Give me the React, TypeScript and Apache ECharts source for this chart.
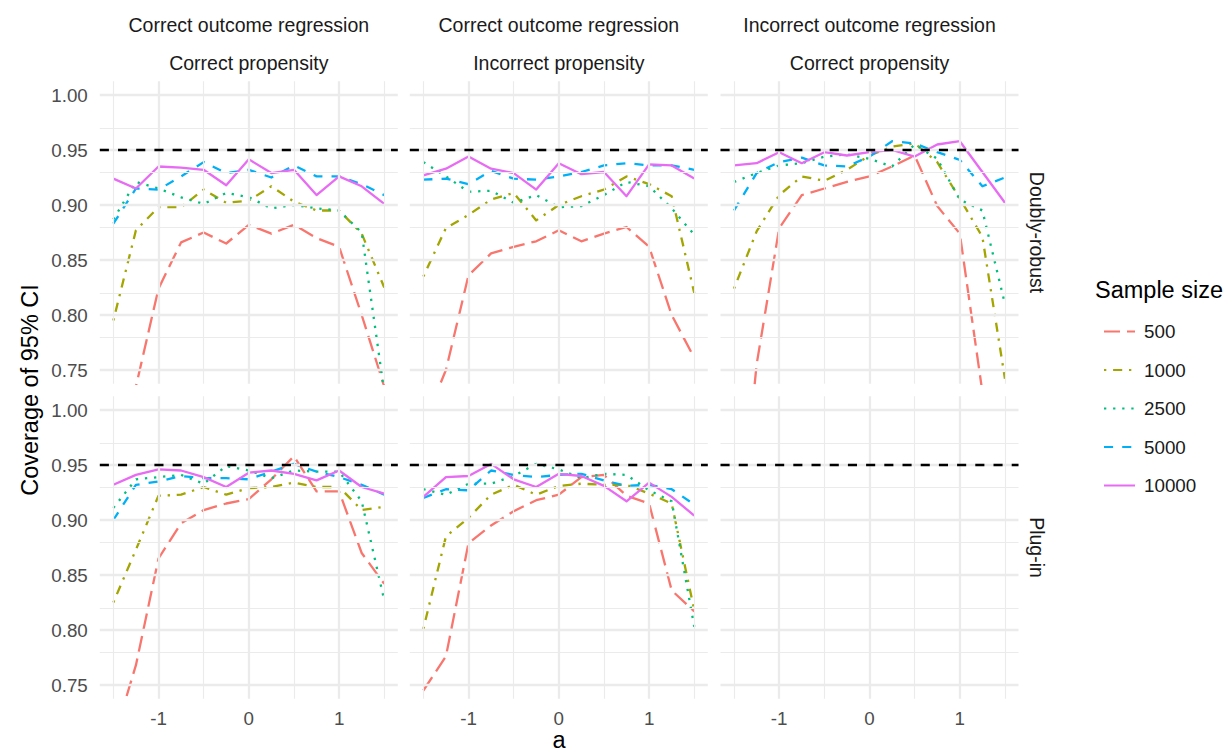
import React, { useEffect, useRef } from "react";
import * as echarts from "echarts";

// ---------- data ----------
const aValues = [-1.5, -1.25, -1, -0.75, -0.5, -0.25, 0, 0.25, 0.5, 0.75, 1, 1.25, 1.5];
const sampleSizes = ["500", "1000", "2500", "5000", "10000"];
const colStripTop = ["Correct outcome regression", "Correct outcome regression", "Incorrect outcome regression"];
const colStripBottom = ["Correct propensity", "Incorrect propensity", "Correct propensity"];
const rowStrips = ["Doubly-robust", "Plug-in"];
const yTicks = [0.75, 0.8, 0.85, 0.9, 0.95, 1.0];
const yMinor = [0.775, 0.825, 0.875, 0.925, 0.975];
const xTicks = [-1, 0, 1];
const xMinor = [-1.5, -0.5, 0.5, 1.5];
const nominalLevel = 0.95;

// Doubly-robust, correct outcome regression, correct propensity
const drCC500 = [0.62, 0.735, 0.824, 0.866, 0.875, 0.865, 0.882, 0.874, 0.882, 0.87, 0.862, 0.8, 0.735];
const drCC1000 = [0.795, 0.877, 0.898, 0.898, 0.914, 0.902, 0.904, 0.917, 0.903, 0.895, 0.895, 0.874, 0.825];
const drCC2500 = [0.887, 0.921, 0.915, 0.907, 0.901, 0.911, 0.907, 0.897, 0.9, 0.897, 0.895, 0.875, 0.73];
const drCC5000 = [0.883, 0.915, 0.914, 0.926, 0.939, 0.929, 0.932, 0.925, 0.936, 0.926, 0.926, 0.919, 0.909];
const drCC10000 = [0.924, 0.915, 0.935, 0.934, 0.932, 0.918, 0.9415, 0.929, 0.932, 0.909, 0.926, 0.917, 0.901];

// Doubly-robust, correct outcome regression, incorrect propensity
const drCI500 = [0.7, 0.75, 0.836, 0.856, 0.862, 0.867, 0.877, 0.867, 0.874, 0.88, 0.862, 0.8, 0.761];
const drCI1000 = [0.835, 0.879, 0.891, 0.905, 0.911, 0.886, 0.9, 0.908, 0.914, 0.926, 0.919, 0.908, 0.82];
const drCI2500 = [0.939, 0.926, 0.912, 0.913, 0.902, 0.909, 0.898, 0.899, 0.909, 0.921, 0.917, 0.897, 0.873];
const drCI5000 = [0.923, 0.924, 0.919, 0.931, 0.924, 0.923, 0.926, 0.93, 0.936, 0.938, 0.936, 0.936, 0.932];
const drCI10000 = [0.927, 0.933, 0.944, 0.933, 0.929, 0.914, 0.938, 0.928, 0.93, 0.908, 0.937, 0.936, 0.924];

// Doubly-robust, incorrect outcome regression, correct propensity
const drIC500 = [0.55, 0.755, 0.879, 0.909, 0.915, 0.921, 0.926, 0.935, 0.945, 0.899, 0.874, 0.73, 0.6];
const drIC1000 = [0.824, 0.876, 0.909, 0.926, 0.922, 0.932, 0.945, 0.953, 0.956, 0.939, 0.906, 0.871, 0.742];
const drIC2500 = [0.921, 0.929, 0.936, 0.938, 0.944, 0.946, 0.942, 0.935, 0.955, 0.942, 0.905, 0.895, 0.81];
const drIC5000 = [0.895, 0.929, 0.939, 0.943, 0.936, 0.935, 0.944, 0.958, 0.956, 0.948, 0.941, 0.917, 0.925];
const drIC10000 = [0.936, 0.938, 0.948, 0.938, 0.948, 0.945, 0.948, 0.95, 0.944, 0.955, 0.958, 0.93, 0.902];

// Plug-in, correct outcome regression, correct propensity
const piCC500 = [0.7, 0.768, 0.865, 0.897, 0.909, 0.915, 0.919, 0.937, 0.958, 0.926, 0.926, 0.87, 0.842];
const piCC1000 = [0.825, 0.873, 0.922, 0.923, 0.93, 0.923, 0.929, 0.93, 0.934, 0.93, 0.93, 0.909, 0.912];
const piCC2500 = [0.911, 0.937, 0.939, 0.941, 0.933, 0.949, 0.945, 0.938, 0.945, 0.944, 0.944, 0.917, 0.827];
const piCC5000 = [0.9, 0.932, 0.935, 0.94, 0.938, 0.938, 0.937, 0.944, 0.951, 0.944, 0.939, 0.932, 0.923];
const piCC10000 = [0.932, 0.941, 0.946, 0.945, 0.939, 0.93, 0.943, 0.945, 0.942, 0.936, 0.945, 0.93, 0.924];

// Plug-in, correct outcome regression, incorrect propensity
const piCI500 = [0.745, 0.776, 0.879, 0.895, 0.908, 0.918, 0.923, 0.939, 0.941, 0.922, 0.915, 0.836, 0.817];
const piCI1000 = [0.801, 0.885, 0.902, 0.923, 0.932, 0.923, 0.931, 0.933, 0.932, 0.932, 0.924, 0.915, 0.818];
const piCI2500 = [0.928, 0.923, 0.933, 0.933, 0.94, 0.951, 0.946, 0.938, 0.942, 0.941, 0.927, 0.917, 0.803];
const piCI5000 = [0.92, 0.928, 0.927, 0.945, 0.941, 0.939, 0.941, 0.942, 0.936, 0.931, 0.932, 0.928, 0.914];
const piCI10000 = [0.921, 0.939, 0.94, 0.951, 0.937, 0.93, 0.942, 0.94, 0.931, 0.917, 0.934, 0.921, 0.904];

const panels = [
  { row: 0, col: 0, series: [drCC500, drCC1000, drCC2500, drCC5000, drCC10000] },
  { row: 0, col: 1, series: [drCI500, drCI1000, drCI2500, drCI5000, drCI10000] },
  { row: 0, col: 2, series: [drIC500, drIC1000, drIC2500, drIC5000, drIC10000] },
  { row: 1, col: 0, series: [piCC500, piCC1000, piCC2500, piCC5000, piCC10000] },
  { row: 1, col: 1, series: [piCI500, piCI1000, piCI2500, piCI5000, piCI10000] },
  { row: 1, col: 2, series: null as number[][] | null },
];

// ---------- styles ----------
const FONT = "'Liberation Sans', Arial, Helvetica, sans-serif";
const colors = ["#F8766D", "#A3A500", "#00BF7D", "#00B0F6", "#E76BF3"];
const dashes: any[] = [[16, 7], [2.3, 6.8, 9.1, 6.8], [2.3, 6.8], [9.1, 9.1], "solid"];
const colLeft = [99.8, 409.8, 720.5];
const rowTop = [81.25, 396.25];
const panelW = 298;
const panelH = 302.5;
const X_MIN = -1.65, X_MAX = 1.65, Y_MIN = 0.7375, Y_MAX = 1.0125;
const GRID = "#EBEBEB";

export default function App() {
  const ref = useRef<HTMLDivElement>(null);
  useEffect(() => {
    if (!ref.current) return;
    const chart = echarts.init(ref.current, undefined, { renderer: "svg" });
    const grid: any[] = [];
    const xAxis: any[] = [];
    const yAxis: any[] = [];
    const series: any[] = [];
    panels.forEach((p, i) => {
      grid.push({ left: colLeft[p.col], top: rowTop[p.row], width: panelW, height: panelH });
      xAxis.push({
        type: "value", gridIndex: i, min: X_MIN, max: X_MAX,
        axisLine: { show: false }, axisTick: { show: false }, splitLine: { show: false },
        axisLabel: {
          show: p.row === 1, customValues: xTicks, margin: 10,
          color: "#4D4D4D", fontSize: 18.8, fontFamily: FONT,
          formatter: (v: number) => String(Math.round(v)),
        },
      });
      yAxis.push({
        type: "value", gridIndex: i, min: Y_MIN, max: Y_MAX,
        axisLine: { show: false }, axisTick: { show: false }, splitLine: { show: false },
        axisLabel: {
          show: p.col === 0, customValues: yTicks, margin: 12,
          color: "#4D4D4D", fontSize: 18.8, fontFamily: FONT,
          formatter: (v: number) => v.toFixed(2),
        },
      });
      const gl = (w: number) => ({ color: GRID, width: w, type: "solid" });
      series.push({
        type: "line", xAxisIndex: i, yAxisIndex: i, data: [], silent: true, z: 1,
        markLine: {
          silent: true, symbol: ["none", "none"], label: { show: false }, animation: false,
          emphasis: { disabled: true },
          data: [
            ...xMinor.map((v) => ({ xAxis: v, lineStyle: gl(1.14) })),
            ...xTicks.map((v) => ({ xAxis: v, lineStyle: gl(2.28) })),
            ...yMinor.map((v) => ({ yAxis: v, lineStyle: gl(1.14) })),
            ...yTicks.map((v) => ({ yAxis: v, lineStyle: gl(2.28) })),
          ],
        },
      });
      if (p.series) {
        p.series.forEach((vals, k) => {
          series.push({
            type: "line", name: sampleSizes[k], xAxisIndex: i, yAxisIndex: i,
            data: aValues.map((a, j) => [a, vals[j]]),
            symbol: "none", showSymbol: false, clip: true, silent: true, z: 3,
            lineStyle: { color: colors[k], width: 2.3, type: dashes[k], cap: "butt", join: "round" },
            itemStyle: { color: colors[k] },
            emphasis: { disabled: true },
          });
        });
      }
      series.push({
        type: "line", xAxisIndex: i, yAxisIndex: i, data: [], silent: true, z: 5,
        markLine: {
          silent: true, symbol: ["none", "none"], label: { show: false }, animation: false,
          emphasis: { disabled: true },
          data: [{ yAxis: nominalLevel }],
          lineStyle: { color: "#000000", width: 2.3, type: [9.1, 9.1] },
        },
      });
    });

    const graphic: any[] = [];
    [0, 1, 2].forEach((c) => {
      const cx = colLeft[c] + panelW / 2;
      graphic.push({ type: "text", x: cx, y: 24.5, style: { text: colStripTop[c], fontSize: 19.5, fontFamily: FONT, fill: "#1A1A1A", align: "center", verticalAlign: "middle" } });
      graphic.push({ type: "text", x: cx, y: 63, style: { text: colStripBottom[c], fontSize: 19.5, fontFamily: FONT, fill: "#1A1A1A", align: "center", verticalAlign: "middle" } });
    });
    [0, 1].forEach((r) => {
      graphic.push({ type: "text", x: 1037, y: rowTop[r] + panelH / 2, rotation: -Math.PI / 2, style: { text: rowStrips[r], fontSize: 19.5, fontFamily: FONT, fill: "#1A1A1A", align: "center", verticalAlign: "middle" } });
    });
    graphic.push({ type: "text", x: 30, y: 390, rotation: Math.PI / 2, style: { text: "Coverage of 95% CI", fontSize: 23.5, fontFamily: FONT, fill: "#000", align: "center", verticalAlign: "middle" } });
    graphic.push({ type: "text", x: 559, y: 740, style: { text: "a", fontSize: 23.5, fontFamily: FONT, fill: "#000", align: "center", verticalAlign: "middle" } });
    graphic.push({ type: "text", x: 1095, y: 290, style: { text: "Sample size", fontSize: 23.5, fontFamily: FONT, fill: "#000", align: "left", verticalAlign: "middle" } });

    chart.setOption({
      animation: false,
      backgroundColor: "#FFFFFF",
      grid, xAxis, yAxis, series, graphic,
      legend: {
        data: sampleSizes, orient: "vertical", left: 1098, top: 317,
        itemWidth: 31, itemHeight: 14, itemGap: 19.5, selectedMode: false,
        itemStyle: { opacity: 0 },
        textStyle: { fontSize: 18.8, fontFamily: FONT, color: "#1A1A1A", lineHeight: 19, padding: [0, 0, 0, 4] },
      },
    });
    return () => chart.dispose();
  }, []);
  return <div ref={ref} style={{ position: "fixed", left: 0, top: 0, width: 1228, height: 752 }} />;
}
